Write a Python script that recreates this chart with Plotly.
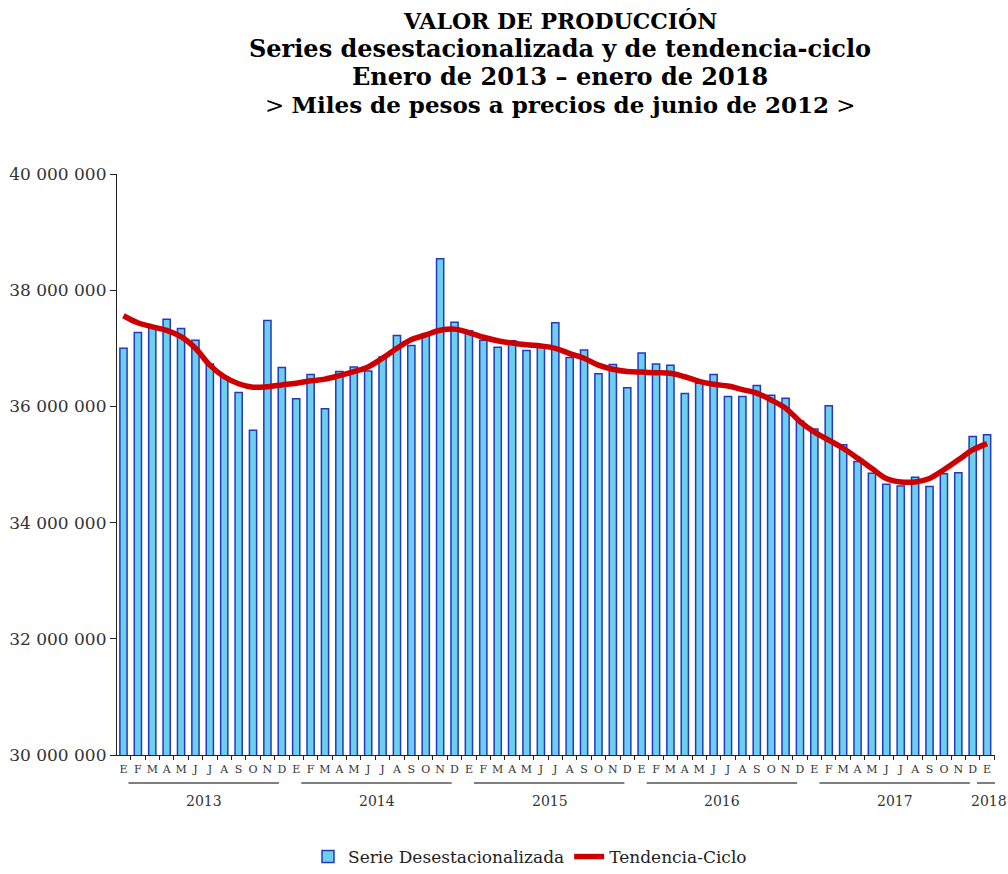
import plotly.graph_objects as go

months = ["E", "F", "M", "A", "M", "J", "J", "A", "S", "O", "N", "D"]
years = ["2013", "2014", "2015", "2016", "2017", "2018"]
month_labels = months * 5 + ["E"]

desest = [
    37.00, 37.27, 37.35, 37.50, 37.34, 37.14, 36.73, 36.51, 36.24, 35.59, 37.48, 36.67,
    36.13, 36.55, 35.96, 36.60, 36.68, 36.61, 36.85, 37.22, 37.05, 37.25, 38.54, 37.45,
    37.30, 37.14, 37.02, 37.13, 36.96, 37.03, 37.44, 36.84, 36.97, 36.56, 36.72, 36.32,
    36.92, 36.73, 36.71, 36.22, 36.40, 36.55, 36.17, 36.17, 36.36, 36.19, 36.14, 35.75,
    35.61, 36.01, 35.34, 35.05, 34.85, 34.66, 34.63, 34.78, 34.62, 34.84, 34.86, 35.48,
    35.51,
]
tendencia = [
    37.56, 37.44, 37.37, 37.31, 37.20, 37.00, 36.71, 36.51, 36.39, 36.33, 36.34, 36.37,
    36.40, 36.44, 36.47, 36.53, 36.60, 36.68, 36.83, 37.00, 37.15, 37.23, 37.31, 37.33,
    37.27, 37.19, 37.13, 37.09, 37.06, 37.04, 37.00, 36.91, 36.83, 36.71, 36.64, 36.60,
    36.59, 36.58, 36.57, 36.51, 36.43, 36.38, 36.35, 36.29, 36.23, 36.11, 35.97, 35.74,
    35.56, 35.42, 35.28, 35.11, 34.93, 34.76, 34.70, 34.70, 34.76, 34.91, 35.08, 35.25,
    35.36,
]

x = list(range(len(desest)))
y_bar = [v * 1e6 for v in desest]
y_line = [v * 1e6 for v in tendencia]

serif = "DejaVu Serif, serif"

fig = go.Figure()
fig.add_trace(go.Bar(
    x=x, y=y_bar, name="Serie Desestacionalizada",
    marker=dict(color="#6CD0EC", line=dict(color="#2638C0", width=1.5)),
))
fig.add_trace(go.Scatter(
    x=x, y=y_line, name="Tendencia-Ciclo", mode="lines",
    line=dict(color="#CC0000", width=5.5, shape="spline"),
))

W, H = 1008, 874
L, R, T, B = 117, 995, 174, 755
PW, PH = R - L, B - T

title_lines = [
    ("<b>VALOR DE PRODUCCIÓN</b>", 22),
    ("<b>Series desestacionalizada y de tendencia-ciclo</b>", 24),
    ("<b>Enero de 2013 – enero de 2018</b>", 24),
    ("> <b>Miles de pesos a precios de junio de 2012</b> >", 23),
]
annotations = []
for k, (t, fs) in enumerate(title_lines):
    annotations.append(dict(
        text=t, xref="paper", yref="paper", x=(560 - L) / PW, y=(B - (21 + 27.7 * k)) / PH,
        xanchor="center", yanchor="middle", showarrow=False,
        font=dict(family=serif, size=fs, color="black"),
    ))

shapes = []
for j, yr in enumerate(years):
    start = j * 12
    if yr == "2018":
        x0, x1, xc = start - 0.7, start + 2.0, start + 0.15
    else:
        x0, x1, xc = start + 0.35, start + 10.8, start + 5.6
    shapes.append(dict(type="line", xref="x", yref="paper", x0=x0, x1=x1,
                       y0=(B - 783) / PH, y1=(B - 783) / PH,
                       line=dict(color="#555555", width=1.5)))
    annotations.append(dict(
        text=yr, xref="x", yref="paper", x=xc, y=(B - 801) / PH,
        xanchor="center", yanchor="middle", showarrow=False,
        font=dict(family=serif, size=14, color="#333333"),
    ))

fig.update_layout(
    width=W, height=H,
    margin=dict(l=L, r=W - R, t=T, b=H - B, autoexpand=False),
    paper_bgcolor="white", plot_bgcolor="white",
    separators=", ",
    bargap=0.5,
    showlegend=True,
    legend=dict(orientation="h", x=(530 - L) / PW, xanchor="center",
                yref="container", y=(H - 857) / H, yanchor="middle",
                font=dict(family=serif, size=17, color="#222222")),
    annotations=annotations,
    shapes=shapes,
    xaxis=dict(
        range=[-0.45, 60.55], tickmode="array", tickvals=x, ticktext=month_labels,
        tickfont=dict(family=serif, size=11, color="#333333"),
        showline=True, linecolor="#222222", linewidth=1.2, ticks="",
        showgrid=False, zeroline=False, ticklabelstandoff=4,
        minor=dict(tickmode="linear", tick0=-0.5, dtick=1, ticks="outside",
                   ticklen=4, tickcolor="#222222", showgrid=False),
    ),
    yaxis=dict(
        range=[30e6, 40e6], tickmode="linear", tick0=30e6, dtick=2e6,
        tickformat=",d", tickfont=dict(family=serif, size=17, color="#333333"),
        showline=True, linecolor="#222222", linewidth=1.2,
        ticks="outside", ticklen=6, tickcolor="#222222",
        showgrid=False, zeroline=False,
    ),
)

fig.write_html("out.html", config={"displayModeBar": False},
               post_script="document.body.style.margin='0px';")
